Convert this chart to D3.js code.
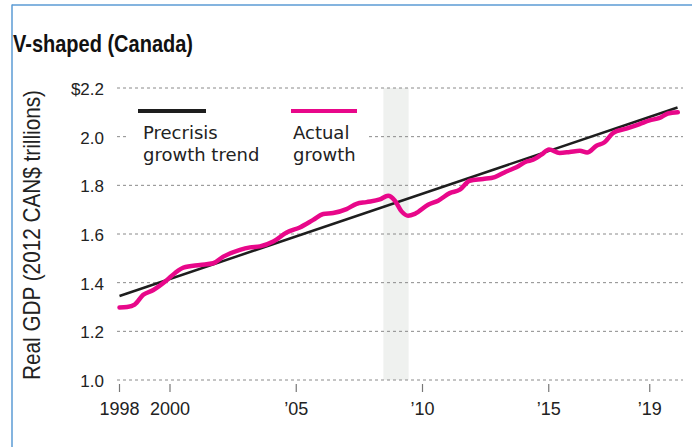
<!DOCTYPE html>
<html lang="en">
<head>
    <meta charset="UTF-8">
    <title>V-shaped (Canada)</title>
    <script src="https://d3js.org/d3.v7.min.js"></script>
    <style>
        body { margin: 0; background: #fff; }
        svg { display: block; }
        .tick-label { font-family: "Liberation Sans", Arial, sans-serif; fill: #222; }
        .legend-label { font-family: "DejaVu Sans", sans-serif; font-size: 18px; fill: #222; }
    </style>
</head>
<body>
<script>
    // chart data
    const yTicks = [1.0, 1.2, 1.4, 1.6, 1.8, 2.0, 2.2];
    const yTickLabels = ["1.0", "1.2", "1.4", "1.6", "1.8", "2.0", "$2.2"];
    const xTicks = [1998, 2000, 2005, 2010, 2015, 2019];
    const xTickLabels = ["1998", "2000", "\u201905", "\u201910", "\u201915", "\u201919"];
    const recession = [2008.45, 2009.45];

    const trendYears = [1998.0, 2020.1];
    const trendValues = [1.345, 2.12];

    const actualYears = [1998.0, 1998.3, 1998.6, 1998.94, 1999.34, 1999.87, 2000.2, 2000.53, 2001.19, 2001.71,
        2002.11, 2002.77, 2003.17, 2003.56, 2004.09, 2004.62, 2005.14, 2005.67, 2006.07, 2006.46,
        2006.99, 2007.39, 2007.78, 2008.31, 2008.64, 2008.9, 2009.17, 2009.43, 2009.7, 2010.22,
        2010.62, 2011.08, 2011.48, 2011.87, 2012.4, 2012.86, 2013.32, 2013.72, 2014.12, 2014.38,
        2014.71, 2015.01, 2015.43, 2015.83, 2016.23, 2016.52, 2016.89, 2017.21, 2017.54, 2018.07,
        2018.6, 2018.99, 2019.39, 2019.72, 2020.11];
    const actualValues = [1.298, 1.300, 1.310, 1.350, 1.370, 1.410, 1.440, 1.462, 1.473, 1.480,
        1.507, 1.535, 1.545, 1.549, 1.569, 1.606, 1.627, 1.658, 1.682, 1.686,
        1.702, 1.724, 1.731, 1.742, 1.757, 1.738, 1.693, 1.675, 1.683, 1.720,
        1.737, 1.768, 1.782, 1.819, 1.826, 1.834, 1.857, 1.874, 1.898, 1.905,
        1.926, 1.947, 1.933, 1.937, 1.942, 1.935, 1.963, 1.977, 2.015, 2.033,
        2.052, 2.067, 2.077, 2.095, 2.100];

    const width = 692, height = 447;
    const pink = "#e8078a";

    const svg = d3.select("body").append("svg")
        .attr("width", width)
        .attr("height", height);

    // frame (left + top edge only, as in the crop)
    svg.append("line").attr("x1", 12).attr("x2", 12).attr("y1", 4.5).attr("y2", height)
        .attr("stroke", "#5b9bd5").attr("stroke-width", 1.5);
    svg.append("line").attr("x1", 12).attr("x2", width).attr("y1", 5).attr("y2", 5)
        .attr("stroke", "#5b9bd5").attr("stroke-width", 1.5);

    svg.append("text")
        .attr("x", 13).attr("y", 52)
        .attr("textLength", 180)
        .attr("lengthAdjust", "spacingAndGlyphs")
        .style("font-family", "'Liberation Sans', Arial, sans-serif")
        .style("font-weight", "bold")
        .style("font-size", "24px")
        .attr("fill", "#111")
        .text("V-shaped (Canada)");

    const x = d3.scaleLinear().domain([1998, 2020]).range([119.5, 675]);
    const y = d3.scaleLinear().domain([1.0, 2.2]).range([380, 88]);

    // recession shading
    svg.append("rect")
        .attr("x", x(recession[0]))
        .attr("width", x(recession[1]) - x(recession[0]))
        .attr("y", y(2.2))
        .attr("height", y(1.0) - y(2.2))
        .attr("fill", "#eff1ef");

    // gridlines
    svg.append("g").selectAll("line")
        .data(yTicks)
        .join("line")
        .attr("x1", 117).attr("x2", 683)
        .attr("y1", d => y(d)).attr("y2", d => y(d))
        .attr("stroke", "#8a8a8a")
        .attr("stroke-width", 1)
        .attr("stroke-dasharray", "3,3");

    svg.append("g").selectAll("text")
        .data(yTicks)
        .join("text")
        .attr("class", "tick-label")
        .attr("x", 104)
        .attr("y", d => y(d) + 7)
        .attr("text-anchor", "end")
        .style("font-size", "17px")
        .text((d, i) => yTickLabels[i]);

    // x ticks
    const xg = svg.append("g");
    xg.selectAll("line")
        .data(xTicks)
        .join("line")
        .attr("x1", d => x(d)).attr("x2", d => x(d))
        .attr("y1", 384).attr("y2", 392)
        .attr("stroke", "#777")
        .attr("stroke-width", 1.2);
    xg.selectAll("text")
        .data(xTicks)
        .join("text")
        .attr("class", "tick-label")
        .attr("x", d => x(d))
        .attr("y", 415)
        .attr("text-anchor", "middle")
        .style("font-size", "18px")
        .text((d, i) => xTickLabels[i]);

    // y axis title
    svg.append("text")
        .attr("transform", "translate(40,380) rotate(-90)")
        .attr("x", 0).attr("y", 0)
        .attr("textLength", 290)
        .attr("lengthAdjust", "spacingAndGlyphs")
        .style("font-family", "'Liberation Sans', Arial, sans-serif")
        .style("font-size", "24px")
        .attr("fill", "#222")
        .text("Real GDP (2012 CAN$ trillions)");

    // legend background masks the gridline behind the labels
    svg.append("rect")
        .attr("x", 129).attr("y", 120)
        .attr("width", 240).attr("height", 46)
        .attr("fill", "#fff");

    const line = d3.line()
        .x(d => x(d[0]))
        .y(d => y(d[1]));

    svg.append("path")
        .datum(d3.zip(trendYears, trendValues))
        .attr("d", line)
        .attr("fill", "none")
        .attr("stroke", "#1e1e1e")
        .attr("stroke-width", 2.5);

    svg.append("path")
        .datum(d3.zip(actualYears, actualValues))
        .attr("d", line.curve(d3.curveMonotoneX))
        .attr("fill", "none")
        .attr("stroke", pink)
        .attr("stroke-width", 4.5)
        .attr("stroke-linejoin", "round")
        .attr("stroke-linecap", "round");

    // legend
    const legend = [
        {lines: ["Precrisis", "growth trend"], color: "#1e1e1e", x0: 138, x1: 206, tx: 143},
        {lines: ["Actual", "growth"], color: pink, x0: 291, x1: 357, tx: 293}
    ];
    legend.forEach(l => {
        svg.append("line")
            .attr("x1", l.x0).attr("x2", l.x1)
            .attr("y1", 111).attr("y2", 111)
            .attr("stroke", l.color)
            .attr("stroke-width", 4);
        l.lines.forEach((t, i) => {
            svg.append("text")
                .attr("class", "legend-label")
                .attr("x", l.tx)
                .attr("y", 139 + i * 22)
                .text(t);
        });
    });
</script>
</body>
</html>
